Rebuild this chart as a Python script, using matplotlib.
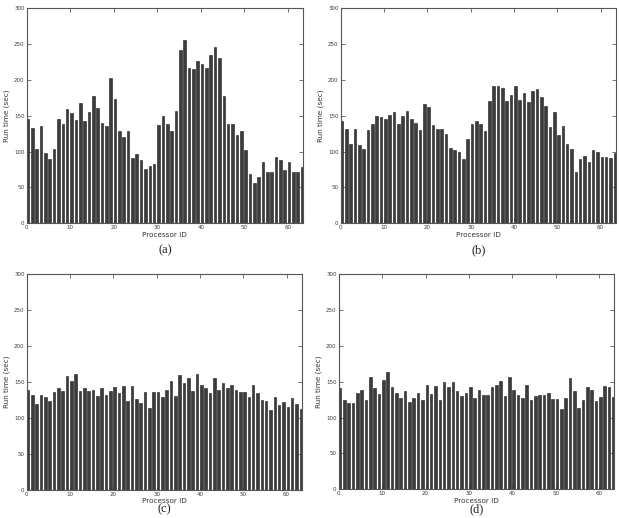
import numpy as np
import matplotlib
matplotlib.use("Agg")
import matplotlib.pyplot as plt

# run time per processor (sec)
processors = list(range(64))

times_a = [146, 133, 104, 136, 98, 89, 104, 146, 139, 159, 153, 144, 168, 142, 155, 177,
           160, 140, 135, 202, 173, 128, 120, 128, 91, 96, 88, 76, 80, 83, 137, 150,
           139, 129, 157, 241, 255, 216, 215, 226, 222, 216, 234, 246, 230, 177, 139, 139,
           123, 128, 102, 69, 56, 64, 86, 71, 71, 93, 88, 74, 86, 71, 71, 78]

times_b = [143, 131, 111, 131, 109, 103, 130, 138, 149, 148, 146, 151, 155, 139, 150, 157,
           146, 140, 130, 166, 162, 137, 132, 131, 124, 105, 102, 99, 89, 117, 138, 142,
           139, 128, 170, 192, 192, 189, 170, 179, 192, 172, 181, 169, 185, 187, 176, 164,
           134, 155, 123, 135, 111, 103, 72, 89, 94, 85, 102, 100, 93, 93, 91, 98]

times_c = [139, 132, 119, 132, 129, 124, 136, 141, 137, 158, 151, 161, 138, 141, 138, 139,
           130, 141, 132, 138, 143, 134, 145, 124, 144, 126, 121, 136, 114, 136, 136, 129,
           139, 152, 131, 160, 149, 155, 137, 161, 146, 142, 135, 155, 139, 149, 142, 146,
           139, 136, 136, 129, 146, 135, 125, 124, 111, 129, 118, 122, 115, 128, 119, 113]

times_d = [142, 125, 120, 120, 135, 139, 124, 157, 142, 133, 153, 163, 143, 135, 128, 137,
           122, 128, 134, 125, 146, 133, 144, 125, 150, 143, 150, 137, 130, 134, 143, 127,
           139, 132, 132, 143, 146, 151, 130, 157, 138, 132, 127, 146, 124, 130, 132, 132,
           134, 126, 126, 112, 127, 156, 137, 114, 125, 143, 139, 123, 129, 144, 143, 129]

panel_labels = ["(a)", "(b)", "(c)", "(d)"]
W, H = 620, 518

fig = plt.figure(figsize=(6.2, 5.18), dpi=100)

# axes boxes in pixels: left, top, right, bottom
boxes = [(26.7, 8, 303, 223.3), (340.7, 8, 615.7, 223.3),
         (26.7, 274.3, 301.7, 489.7), (338.7, 274.3, 614.3, 489.3)]
# vertical pixel position of the (a)...(d) captions
caption_y = [250, 250, 509, 509]

for data, box, lab, cy in zip([times_a, times_b, times_c, times_d], boxes, panel_labels, caption_y):
    l, t, r, b = box
    ax = fig.add_axes([l / W, 1 - b / H, (r - l) / W, (b - t) / H])
    ax.bar(processors, data, width=0.6, align='edge', color='#3c3c3c',
           edgecolor='#1a1a1a', linewidth=0.4)
    ax.set_xlim(0, 63.5)
    ax.set_ylim(0, 300)
    ax.set_xticks([0, 10, 20, 30, 40, 50, 60])
    ax.set_yticks([0, 50, 100, 150, 200, 250, 300])
    ax.tick_params(direction='in', top=True, right=True, length=3, width=0.5,
                   labelsize=4, colors='#3a3a3a', pad=1.5)
    for s in ax.spines.values():
        s.set_color('#555555')
        s.set_linewidth(0.8)
    ax.set_xlabel('Processor ID', fontsize=5.2, color='#333333', labelpad=1)
    ax.set_ylabel('Run time (sec)', fontsize=5.2, color='#333333', labelpad=3)
    cx = (l + r) / 2
    fig.text(cx / W, 1 - cy / H, lab, ha='center', va='center',
             family='Liberation Serif', fontsize=9, color='#222222')

fig.savefig('out.png', dpi=100)
